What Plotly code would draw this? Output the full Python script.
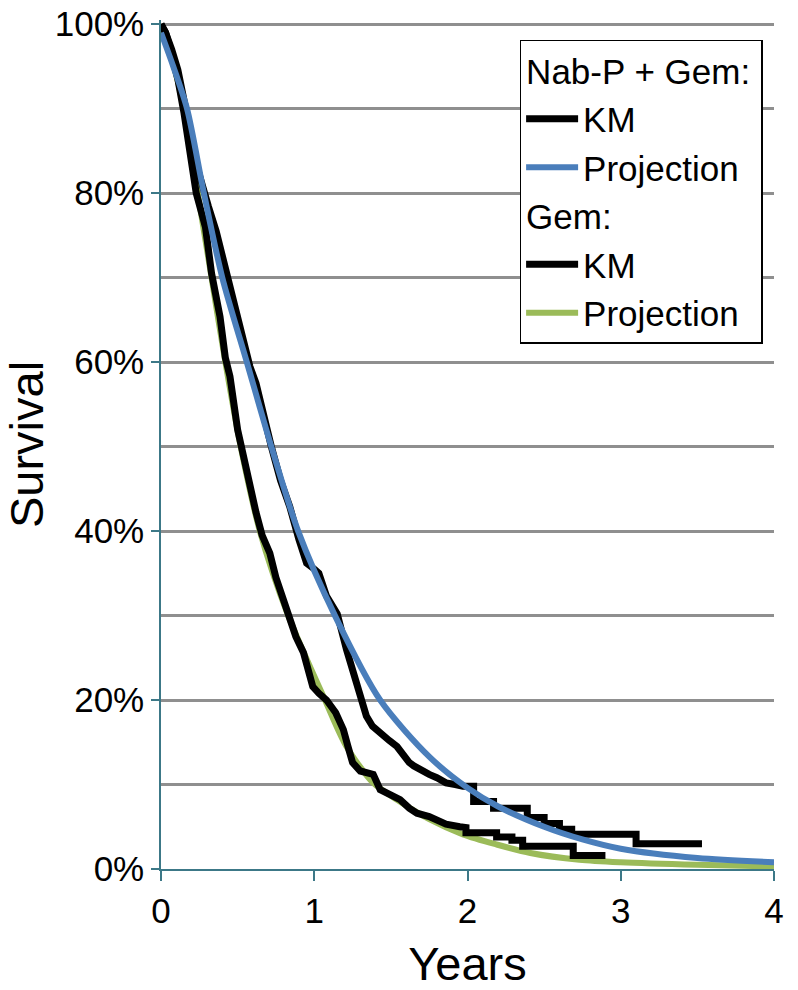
import plotly.graph_objects as go

# ---------------- data ----------------
# Kaplan-Meier, Nab-P + Gem (years, survival %)
km_nab_t = [0.00, 0.03, 0.07, 0.11, 0.15, 0.18, 0.21, 0.24, 0.28, 0.31, 0.36, 0.40, 0.42,
            0.45, 0.50, 0.54, 0.58, 0.62, 0.67, 0.72, 0.78, 0.84, 0.90, 0.95, 1.00, 1.03,
            1.08, 1.12, 1.15, 1.21, 1.25, 1.28, 1.34, 1.38, 1.41, 1.45, 1.49, 1.54, 1.58,
            1.62, 1.65, 1.70, 1.75, 1.80, 1.86, 1.92, 1.97, 2.04, 2.04, 2.17, 2.17, 2.39,
            2.39, 2.50, 2.50, 2.60, 2.60, 2.68, 2.68, 3.10, 3.10, 3.53]
km_nab_s = [100, 99, 97, 94.6, 91, 88.7, 85.5, 82.8, 80, 78.4, 75.5, 72.5, 71.5,
            68.5, 65, 62.3, 59.5, 57.5, 53.5, 50, 46, 42.9, 39, 36.2, 35.5, 35.0,
            32.3, 31.2, 30.2, 26, 23.5, 21.2, 18.1, 16.9, 16.4, 15.7, 15.2, 14.5, 13.4,
            12.6, 12.2, 11.6, 11.2, 10.8, 10.2, 10.0, 9.8, 9.8, 8.0, 8.0, 7.2, 7.2,
            6.1, 6.1, 5.4, 5.4, 4.7, 4.7, 4.1, 4.1, 3.0, 3.0]

# Kaplan-Meier, Gem
km_gem_t = [0.00, 0.03, 0.07, 0.11, 0.15, 0.18, 0.23, 0.26, 0.29, 0.33, 0.36, 0.385, 0.42,
            0.45, 0.50, 0.54, 0.58, 0.62, 0.66, 0.71, 0.75, 0.79, 0.84, 0.88, 0.93, 0.96,
            0.99, 1.03, 1.08, 1.14, 1.19, 1.22, 1.25, 1.30, 1.385, 1.43, 1.50, 1.56, 1.62,
            1.67, 1.75, 1.80, 1.86, 1.95, 1.99, 1.99, 2.19, 2.19, 2.29, 2.29, 2.36, 2.36,
            2.69, 2.69, 2.90]
km_gem_s = [100, 99, 96.5, 93.5, 89.5, 85.5, 80, 78, 76, 70.5, 67.5, 65.4, 60.5,
            58.3, 52, 48.5, 45.5, 42.2, 39.5, 37.4, 34.5, 32.3, 29.1, 27.5, 25.6, 23.5,
            21.6, 20.8, 20.0, 18.5, 16.5, 14.5, 12.6, 11.6, 11.2, 9.4, 8.8, 8.2, 7.2,
            6.6, 6.2, 5.8, 5.3, 5.0, 4.9, 4.3, 4.3, 3.8, 3.8, 3.4, 3.4, 2.7,
            2.7, 1.6, 1.6]

# Projections
proj_nab_t = [0, 0.08, 0.17, 0.28, 0.40, 0.56, 0.72, 0.895, 1.135, 1.43, 1.75, 2.0, 2.2,
              2.5, 2.75, 3.0, 3.5, 4.0]
proj_nab_s = [99, 95, 90, 80, 70, 60, 50, 40, 30, 20, 13.3, 9.6, 7.4, 5.0, 3.5, 2.4, 1.3, 0.8]

proj_gem_t = [0, 0.07, 0.15, 0.24, 0.33, 0.42, 0.52, 0.645, 0.83, 1.07, 1.21, 1.385, 1.54,
              1.75, 1.97, 2.19, 2.41, 2.73, 3.0, 3.5, 4.0]
proj_gem_s = [100, 96, 90, 80, 70, 60, 50, 40, 30, 20, 14.5, 10.2, 8.2, 5.9, 4.1, 2.9, 1.9,
              1.1, 0.8, 0.5, 0.3]

x_ticks = [0, 1, 2, 3, 4]
y_ticks = [0, 20, 40, 60, 80, 100]
y_tick_labels = ["0%", "20%", "40%", "60%", "80%", "100%"]

# ---------------- styling ----------------
FONT = "Arial, Liberation Sans, sans-serif"
TEAL = "#3c7887"
GRID = "#8f8f8f"
BLUE = "#4a7ebb"
GREEN = "#9bbb59"

fig = go.Figure()

fig.add_trace(go.Scatter(
    x=proj_gem_t, y=proj_gem_s, mode="lines", name="Projection",
    line=dict(color=GREEN, width=6, shape="spline", smoothing=0.8),
    legendgroup="gem", legendgrouptitle=dict(text="Gem:"), legendrank=4))
fig.add_trace(go.Scatter(
    x=km_gem_t, y=km_gem_s, mode="lines", name="KM",
    line=dict(color="black", width=7),
    legendgroup="gem", legendgrouptitle=dict(text="Gem:"), legendrank=3))
fig.add_trace(go.Scatter(
    x=km_nab_t, y=km_nab_s, mode="lines", name="KM",
    line=dict(color="black", width=7),
    legendgroup="nab", legendgrouptitle=dict(text="Nab-P + Gem:"), legendrank=1))
fig.add_trace(go.Scatter(
    x=proj_nab_t, y=proj_nab_s, mode="lines", name="Projection",
    line=dict(color=BLUE, width=6, shape="spline", smoothing=0.8),
    legendgroup="nab", legendgrouptitle=dict(text="Nab-P + Gem:"), legendrank=2))

fig.update_layout(
    template="none",
    width=798, height=990,
    margin=dict(l=161, r=24, t=20.3, b=120.5, pad=0, autoexpand=False),
    paper_bgcolor="white", plot_bgcolor="white",
    font=dict(family=FONT, color="black", size=35),
    showlegend=True,
    legend=dict(
        x=0.585, y=0.977, xanchor="left", yanchor="top",
        bordercolor="black", borderwidth=1.5, bgcolor="white",
        font=dict(family=FONT, size=35, color="black"),
        grouptitlefont=dict(family=FONT, size=35, color="black"),
        tracegroupgap=0, traceorder="grouped", itemwidth=52,
    ),
    xaxis=dict(
        range=[0, 4], tickvals=x_ticks, ticks="outside", ticklen=10,
        tickcolor=TEAL, tickwidth=1.5, showline=True, linecolor=TEAL, linewidth=1.5,
        showgrid=False, zeroline=False, automargin=False, ticklabeloverflow="allow",
        tickfont=dict(family=FONT, size=35, color="black"),
        title=dict(text="Years", font=dict(family=FONT, size=47, color="black"), standoff=20),
    ),
    yaxis=dict(
        range=[0, 100.5], tickvals=y_ticks, ticktext=y_tick_labels, ticks="outside", ticklen=8,
        tickcolor=TEAL, tickwidth=1.5, showline=True, linecolor=TEAL, linewidth=1.5,
        showgrid=True, gridcolor=GRID, gridwidth=3, zeroline=False, automargin=True,
        ticklabeloverflow="allow",
        minor=dict(dtick=10, showgrid=True, gridcolor=GRID, gridwidth=3, ticks=""),
        tickfont=dict(family=FONT, size=35, color="black"),
        title=dict(text="Survival", font=dict(family=FONT, size=47, color="black"), standoff=9),
    ),
)

# remove the browser's default 8px page margin so the figure fills the window exactly
fig.write_html("out.html", config={"displayModeBar": False},
               post_script="document.body.style.margin='0';")
